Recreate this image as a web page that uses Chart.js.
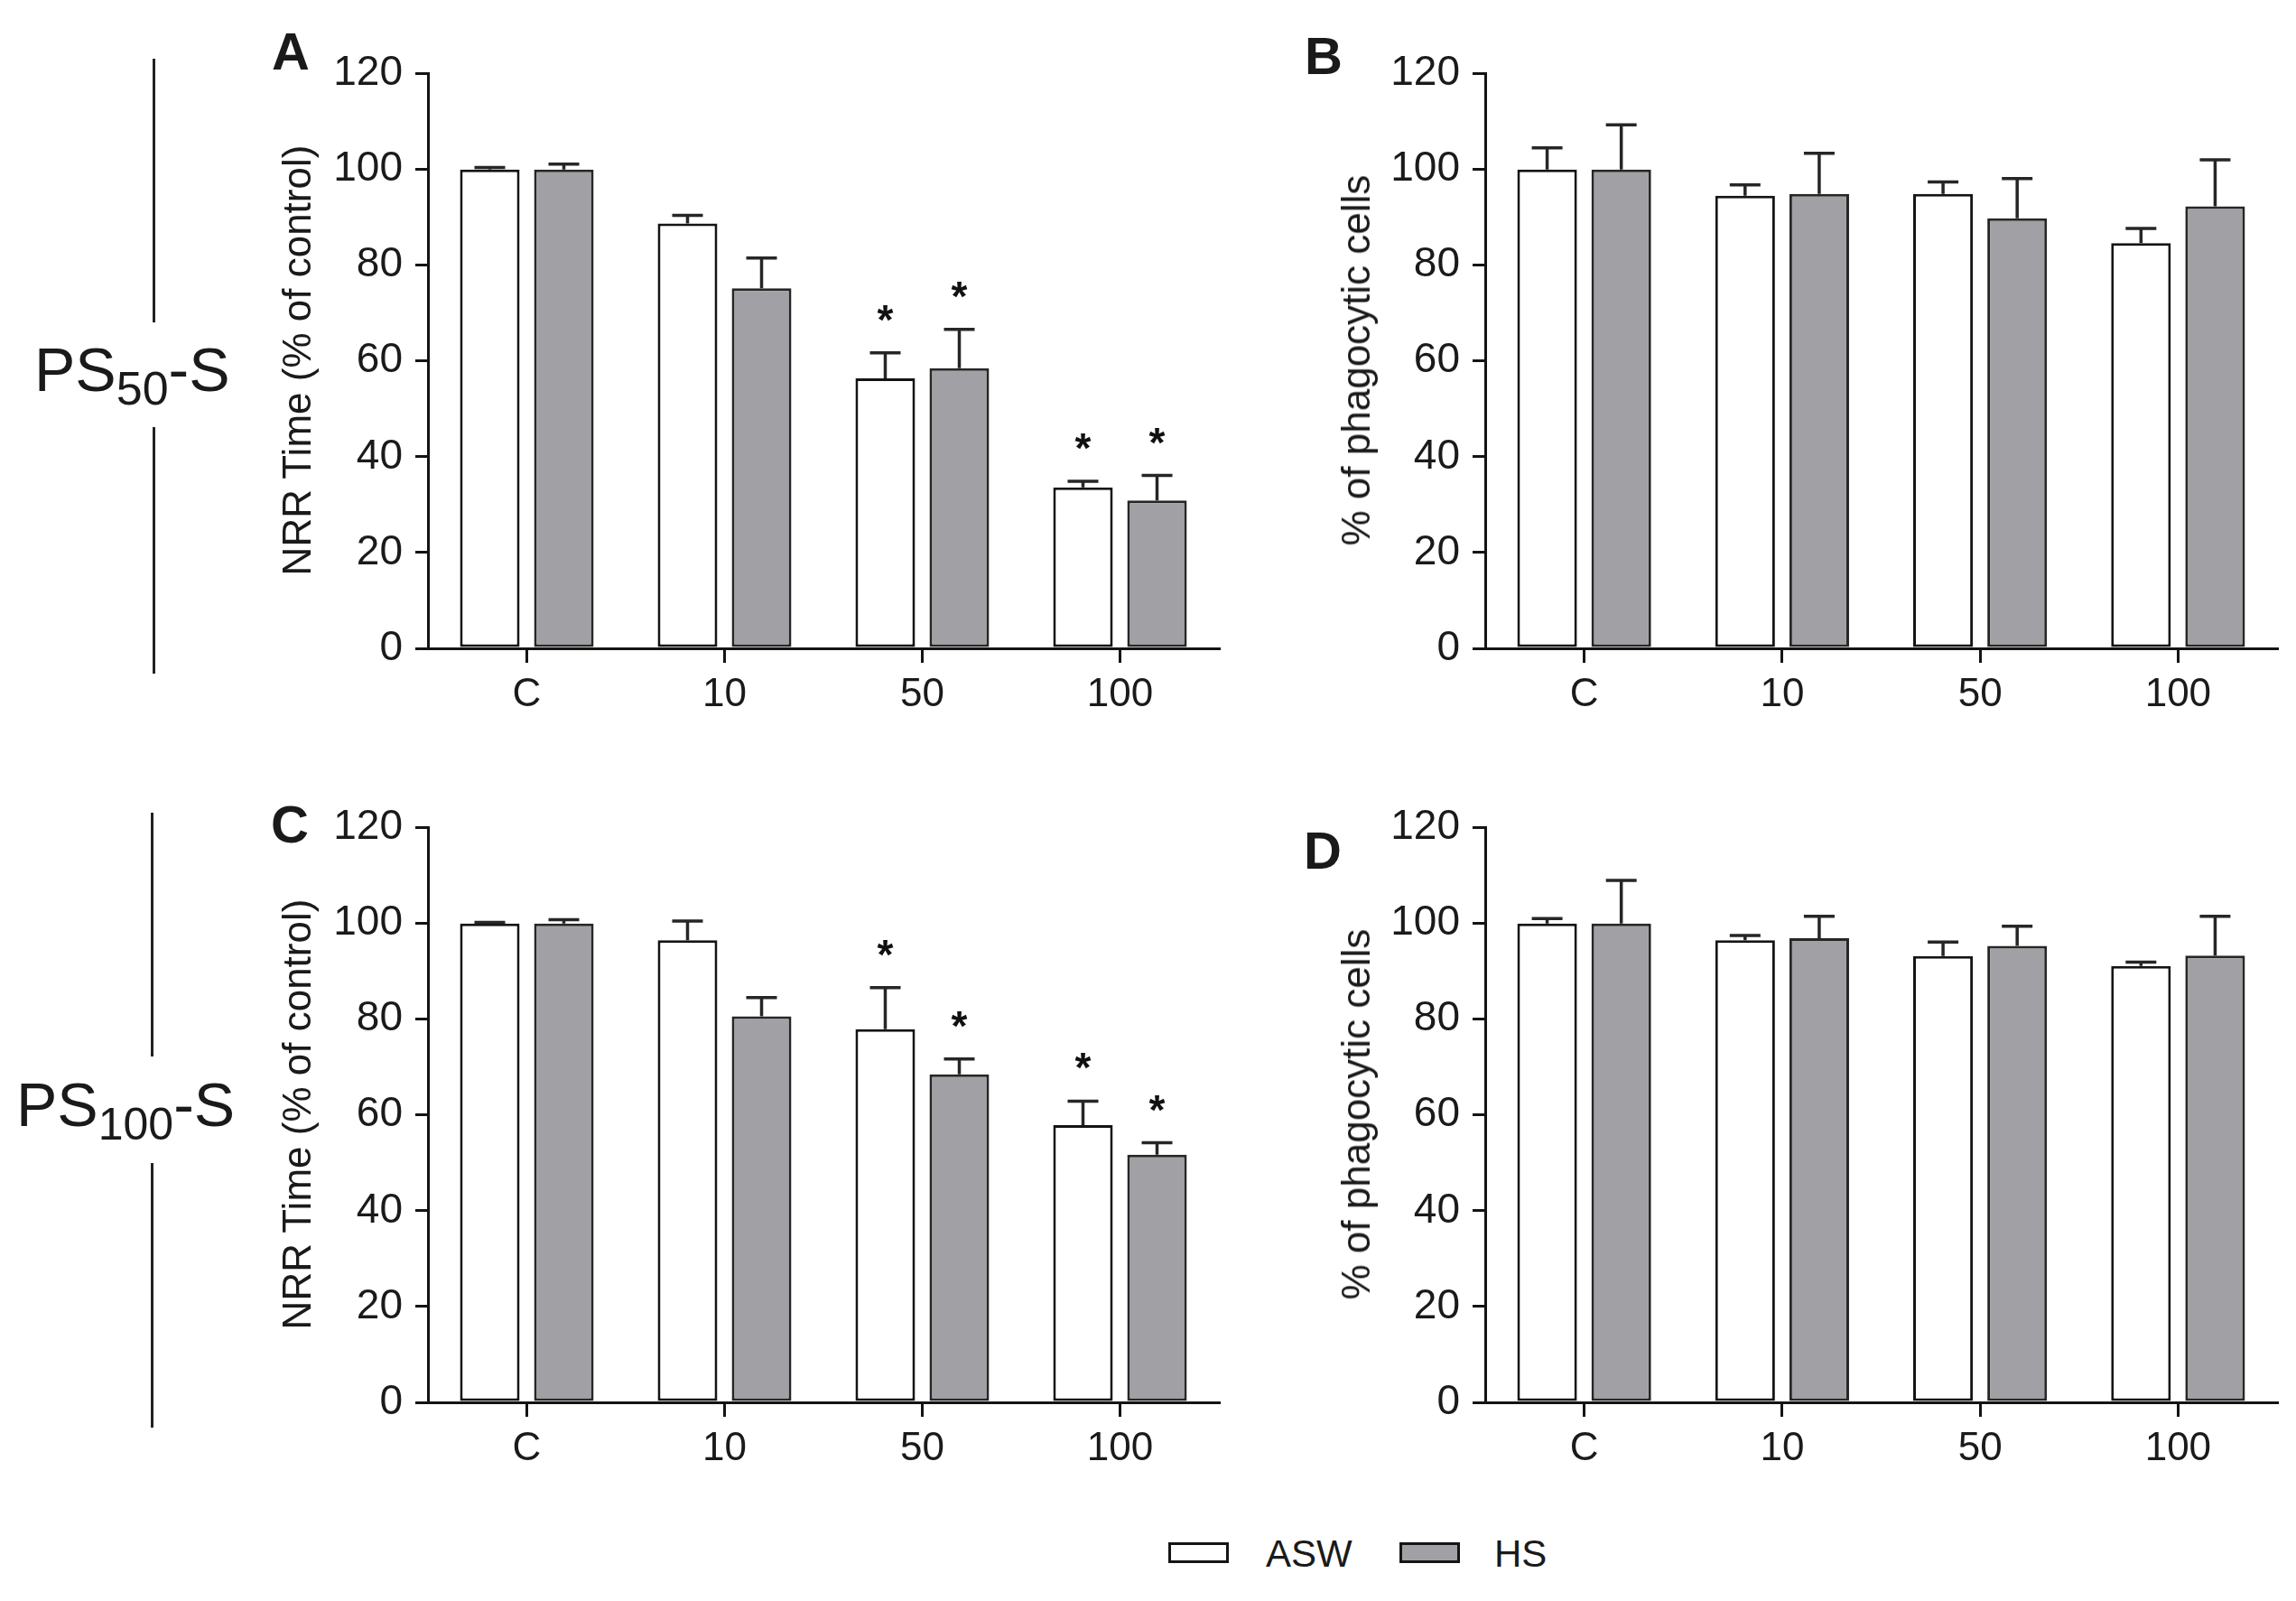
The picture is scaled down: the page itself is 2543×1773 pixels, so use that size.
<!DOCTYPE html>
<html>
<head>
<meta charset="utf-8">
<script src="https://cdn.jsdelivr.net/npm/chart.js@4.4.1/dist/chart.umd.min.js"></script>
<style>
  html, body { margin: 0; padding: 0; background: #fff; }
  #page { position: relative; width: 2543px; height: 1773px; overflow: hidden; background: #fff;
          font-family: "Liberation Sans", Arial, sans-serif; color: #1a1a1a; }
  canvas { position: absolute; }
  .txt { position: absolute; white-space: nowrap; line-height: 1; }
  .ytitle { position: absolute; white-space: nowrap; line-height: 1; font-size: 44px;
            transform: translate(-50%, -50%) rotate(-90deg); }
  .vline { position: absolute; width: 3px; background: #222; }
  .box { position: absolute; box-sizing: border-box; border: 3px solid #151515; }
</style>
</head>
<body>
<div id="page">
  <canvas id="panelA" width="1080" height="800" style="left:290px;top:40px;width:1080px;height:800px"></canvas>
  <canvas id="panelB" width="1081" height="800" style="left:1461px;top:40px;width:1081px;height:800px"></canvas>
  <canvas id="panelC" width="1080" height="800" style="left:290px;top:875px;width:1080px;height:800px"></canvas>
  <canvas id="panelD" width="1081" height="800" style="left:1461px;top:875px;width:1081px;height:800px"></canvas>

  <div class="txt" style="left:301px;top:28px;font-size:58px;font-weight:bold">A</div>
  <div class="txt" style="left:1445px;top:33px;font-size:58px;font-weight:bold">B</div>
  <div class="txt" style="left:300px;top:884px;font-size:58px;font-weight:bold">C</div>
  <div class="txt" style="left:1444px;top:913px;font-size:58px;font-weight:bold">D</div>

  <div class="ytitle" style="left:329px;top:399px">NRR Time (% of control)</div>
  <div class="ytitle" style="left:1502px;top:399px">% of phagocytic cells</div>
  <div class="ytitle" style="left:329px;top:1234px">NRR Time (% of control)</div>
  <div class="ytitle" style="left:1502px;top:1234px">% of phagocytic cells</div>

  <div class="vline" style="left:169px;top:65px;height:292px"></div>
  <div class="vline" style="left:169px;top:473px;height:273px"></div>
  <div class="txt" style="left:38px;top:375px;font-size:68px">PS<span style="font-size:52px;position:relative;top:15px">50</span>-S</div>

  <div class="vline" style="left:167px;top:900px;height:270px"></div>
  <div class="vline" style="left:167px;top:1288px;height:293px"></div>
  <div class="txt" style="left:18px;top:1189px;font-size:68px">PS<span style="font-size:50px;position:relative;top:15px">100</span>-S</div>

  <div id="legend"></div>
</div>

<script>
// categories and series
const categories = ["C", "10", "50", "100"];
const seriesNames = ["ASW", "HS"];
const seriesFill = ["#ffffff", "#a1a1a5"];
const seriesBorder = ["#141414", "#262626"];
const yMax = 120;
const yStep = 20;

// Panel A - PS50-S, NRR time
const aAsw = [100, 88.7, 56.4, 33.6];
const aAswErr = [0.4, 1.7, 5.3, 1.3];
const aHs = [100, 75.2, 58.5, 30.9];
const aHsErr = [1.1, 6.3, 8.1, 5.2];
const aAswStar = [false, false, true, true];
const aHsStar = [false, false, true, true];

// Panel B - PS50-S, phagocytosis
const bAsw = [100, 94.5, 94.9, 84.6];
const bAswErr = [4.5, 2.3, 2.5, 3.1];
const bHs = [100, 94.9, 89.8, 92.3];
const bHsErr = [9.3, 8.5, 8.3, 9.7];
const bAswStar = [false, false, false, false];
const bHsStar = [false, false, false, false];

// Panel C - PS100-S, NRR time
const cAsw = [100, 96.5, 77.9, 57.9];
const cAswErr = [0.2, 4.0, 8.7, 5.0];
const cHs = [100, 80.6, 68.5, 51.7];
const cHsErr = [0.8, 3.9, 3.2, 2.5];
const cAswStar = [false, false, true, true];
const cHsStar = [false, false, true, true];

// Panel D - PS100-S, phagocytosis
const dAsw = [100, 96.5, 93.2, 91.1];
const dAswErr = [1.0, 1.0, 2.9, 0.8];
const dHs = [100, 96.9, 95.3, 93.3];
const dHsErr = [9.0, 4.6, 4.1, 8.2];
const dAswStar = [false, false, false, false];
const dHsStar = [false, false, false, false];

const tickFont = '"Liberation Sans", Arial, sans-serif';

// upward error bars (mean + SD) and significance stars
const errorBars = {
  id: "errorBars",
  afterDatasetsDraw(chart) {
    const ctx = chart.ctx;
    const y = chart.scales.y;
    chart.data.datasets.forEach((ds, i) => {
      const meta = chart.getDatasetMeta(i);
      meta.data.forEach((bar, j) => {
        const top = y.getPixelForValue(ds.data[j] + ds.errors[j]);
        ctx.save();
        ctx.strokeStyle = "#262626";
        ctx.lineWidth = 3.5;
        ctx.beginPath();
        ctx.moveTo(bar.x, bar.y);
        ctx.lineTo(bar.x, top);
        ctx.moveTo(bar.x - 17, top);
        ctx.lineTo(bar.x + 17, top);
        ctx.stroke();
        if (ds.stars[j]) {
          ctx.fillStyle = "#111";
          ctx.font = 'bold 46px "Liberation Sans", Arial, sans-serif';
          ctx.textAlign = "center";
          ctx.textBaseline = "alphabetic";
          ctx.fillText("*", bar.x, top - 48 + 27);
        }
        ctx.restore();
      });
    });
  },
};

function makePanel(id, asw, aswErr, aswStar, hs, hsErr, hsStar) {
  const values = [asw, hs];
  const errs = [aswErr, hsErr];
  const stars = [aswStar, hsStar];
  new Chart(document.getElementById(id), {
    type: "bar",
    data: {
      labels: categories,
      datasets: seriesNames.map((name, k) => ({
        label: name,
        data: values[k],
        errors: errs[k],
        stars: stars[k],
        backgroundColor: seriesFill[k],
        borderColor: seriesBorder[k],
        borderWidth: 3,
        borderSkipped: false,
        categoryPercentage: 0.749,
        barPercentage: 0.805,
      })),
    },
    options: {
      responsive: false,
      animation: false,
      layout: { padding: { top: 41, right: 20, left: 0, bottom: 0 } },
      plugins: { legend: { display: false }, tooltip: { enabled: false } },
      scales: {
        x: {
          grid: { drawOnChartArea: false, drawTicks: true, tickLength: 16, offset: false, color: "#141414", lineWidth: 3 },
          border: { display: true, color: "#141414", width: 3 },
          ticks: { color: "#1a1a1a", font: { family: tickFont, size: 44 }, padding: 9, maxRotation: 0, autoSkip: false },
          afterFit(scale) { scale.height = 122; },
        },
        y: {
          min: 0,
          max: yMax,
          grid: { drawOnChartArea: false, drawTicks: true, tickLength: 14, color: "#141414", lineWidth: 3 },
          border: { display: true, color: "#141414", width: 3 },
          ticks: { stepSize: yStep, color: "#1a1a1a", font: { family: tickFont, size: 46 }, padding: 14 },
          afterFit(scale) { scale.width = 184; },
        },
      },
    },
    plugins: [errorBars],
  });
}

makePanel("panelA", aAsw, aAswErr, aAswStar, aHs, aHsErr, aHsStar);
makePanel("panelB", bAsw, bAswErr, bAswStar, bHs, bHsErr, bHsStar);
makePanel("panelC", cAsw, cAswErr, cAswStar, cHs, cHsErr, cHsStar);
makePanel("panelD", dAsw, dAswErr, dAswStar, dHs, dHsErr, dHsStar);

// shared legend under the panels
const legend = document.getElementById("legend");
const boxLeft = [1294, 1550];
const textLeft = [1402, 1655];
seriesNames.forEach((name, k) => {
  const box = document.createElement("div");
  box.className = "box";
  box.style.cssText = `left:${boxLeft[k]}px;top:1708px;width:67px;height:23px;background:${seriesFill[k]}`;
  legend.appendChild(box);
  const label = document.createElement("div");
  label.className = "txt";
  label.style.cssText = `left:${textLeft[k]}px;top:1700px;font-size:42px`;
  label.textContent = name;
  legend.appendChild(label);
});
</script>
</body>
</html>
